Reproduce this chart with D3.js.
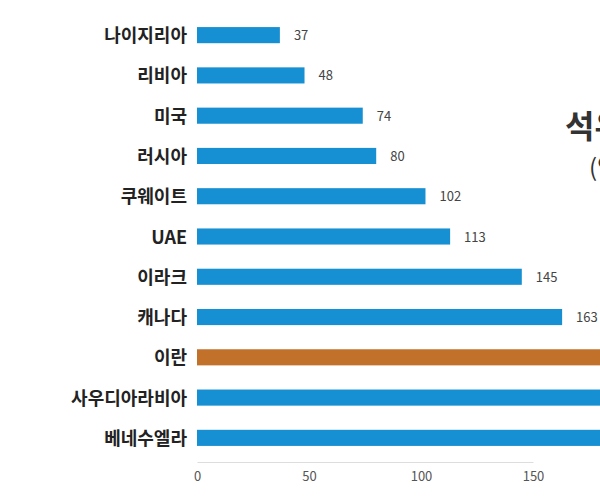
<!DOCTYPE html>
<html><head><meta charset="utf-8">
<script src="https://cdn.jsdelivr.net/npm/d3@7"></script>
<style>body{margin:0;background:#fff;overflow:hidden}</style>
</head><body><div id="chart"></div>
<script>
const countries = ["나이지리아", "리비아", "미국", "러시아", "쿠웨이트", "UAE", "이라크", "캐나다", "이란", "사우디아라비아", "베네수엘라"];
const reserves = [37, 48, 74, 80, 102, 113, 145, 163, 210, 268, 298];
const highlight = "이란";
const ticks = [0, 50, 100, 150, 200, 250, 300];

const width = 600, height = 500;
const svg = d3.select("#chart").append("svg").attr("width", width).attr("height", height);

const x = d3.scaleLinear().domain([0, 150]).range([197, 533]);
const y = d3.scaleBand().domain(countries).range([15, 458]).paddingInner(0.6).paddingOuter(0.3);

svg.selectAll("rect.bar").data(countries).enter().append("rect")
  .attr("x", x(0)).attr("y", d => y(d))
  .attr("width", (d, i) => x(reserves[i]) - x(0))
  .attr("height", y.bandwidth())
  .attr("fill", d => d === highlight ? "#c2712b" : "#1690d2");

svg.selectAll("text.val").data(countries).enter().append("text")
  .attr("x", (d, i) => x(reserves[i]) + 14).attr("y", d => y(d) + y.bandwidth() / 2 + 5)
  .attr("font-family", "Noto Sans CJK KR").attr("font-size", 13).attr("fill", "#444")
  .text((d, i) => reserves[i]);

svg.selectAll("text.cat").data(countries).enter().append("text")
  .attr("x", 187).attr("y", d => y(d) + y.bandwidth() / 2 + 7).attr("text-anchor", "end")
  .attr("font-family", "Noto Sans CJK KR").attr("font-weight", "bold").attr("font-size", 18).attr("fill", "#222")
  .text(d => d);

const axis = svg.append("g").attr("transform", "translate(0,462)")
  .call(d3.axisBottom(x).tickValues(ticks).tickSize(0).tickPadding(10));
axis.select(".domain").attr("stroke", "#ddd");
axis.selectAll("text").attr("font-family", "Noto Sans CJK KR").attr("font-size", 13).attr("fill", "#555");

svg.append("text").attr("x", 565).attr("y", 138)
  .attr("font-family", "Noto Sans CJK KR").attr("font-weight", "bold").attr("font-size", 32).attr("fill", "#333")
  .text("석유 매장량");
svg.append("text").attr("x", 589).attr("y", 176)
  .attr("font-family", "Noto Sans CJK KR").attr("font-size", 24).attr("fill", "#333")
  .text("(억 배럴)");
</script></body></html>
